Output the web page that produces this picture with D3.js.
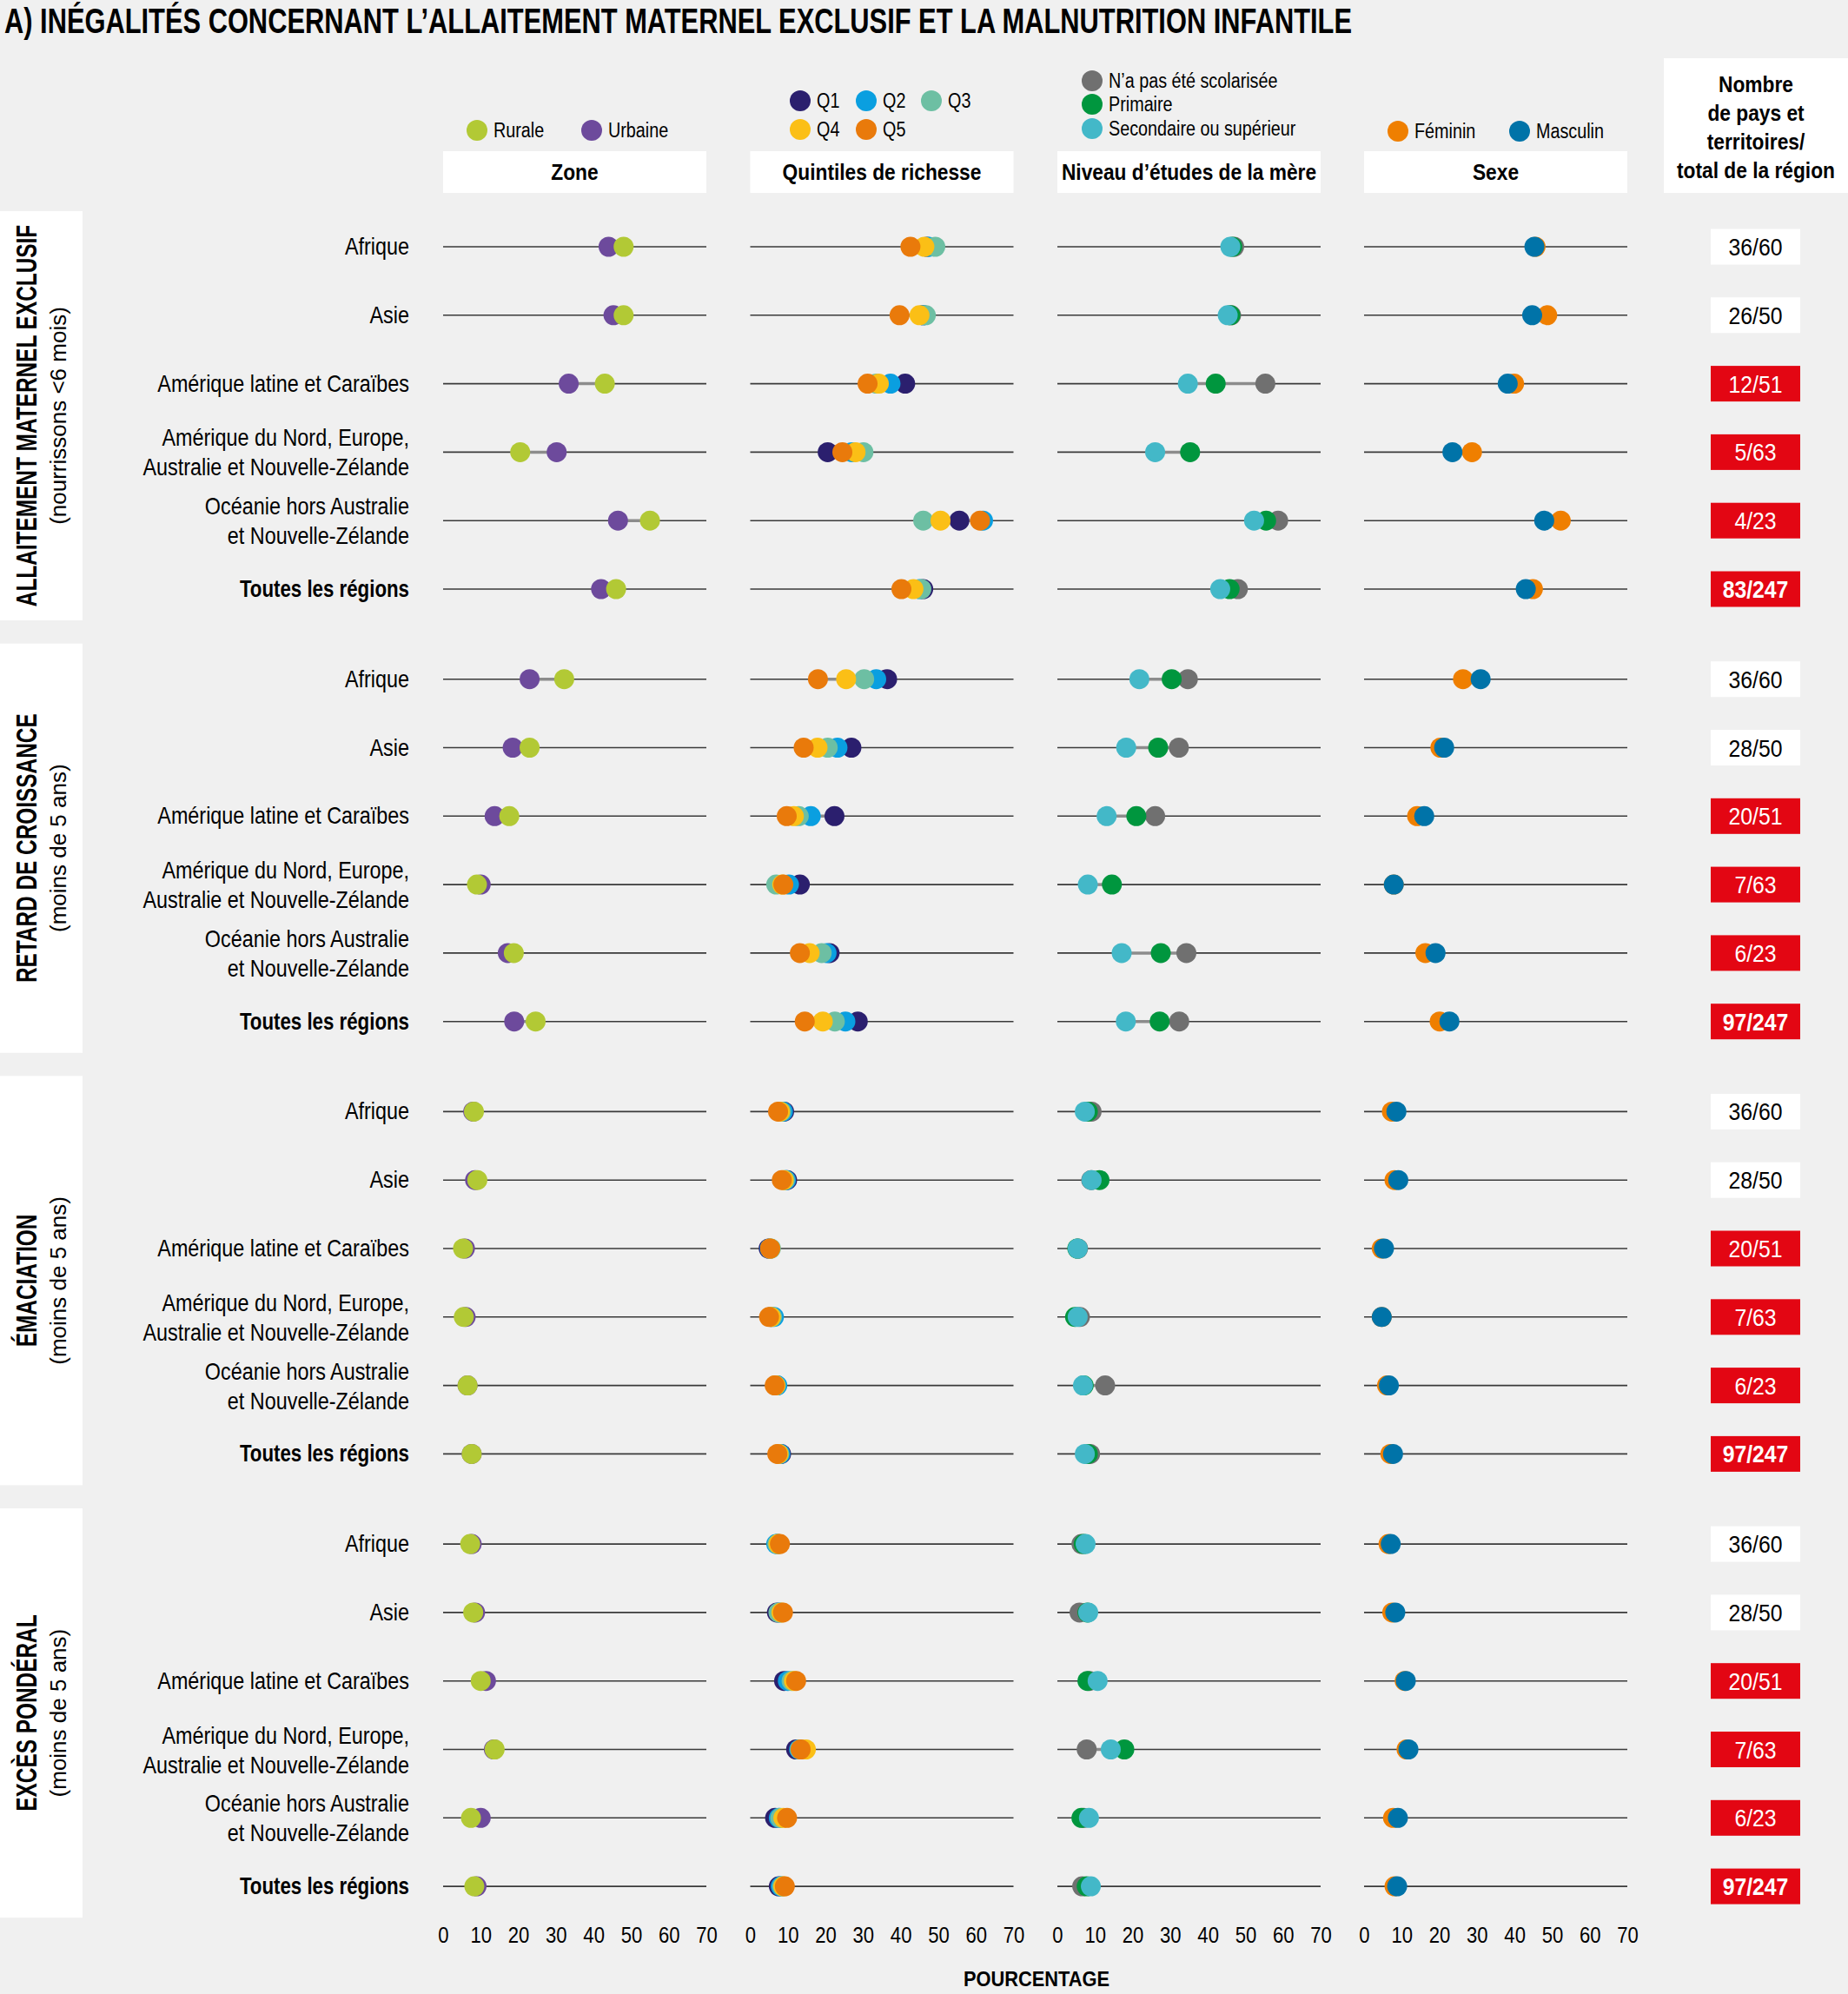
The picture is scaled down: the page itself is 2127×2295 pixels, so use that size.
<!DOCTYPE html>
<html><head><meta charset="utf-8">
<script src="https://cdn.jsdelivr.net/npm/d3@7"></script>
<style>html,body{margin:0;padding:0;background:#f0f0f0}svg{display:block}</style>
</head><body><svg id="c" width="2127" height="2295"></svg>
<script>
// ---------------- DATA ----------------
const titleText = "A) INÉGALITÉS CONCERNANT L’ALLAITEMENT MATERNEL EXCLUSIF ET LA MALNUTRITION INFANTILE";
const regions = ["Afrique", "Asie", "Amérique latine et Caraïbes",
  "Amérique du Nord, Europe,\nAustralie et Nouvelle-Zélande",
  "Océanie hors Australie\net Nouvelle-Zélande", "Toutes les régions"];
const indicatorTitles = ["ALLAITEMENT MATERNEL EXCLUSIF", "RETARD DE CROISSANCE", "ÉMACIATION", "EXCÈS PONDÉRAL"];
const indicatorSubtitles = ["(nourrissons <6 mois)", "(moins de 5 ans)", "(moins de 5 ans)", "(moins de 5 ans)"];
const dimensionNames = ["Zone", "Quintiles de richesse", "Niveau d’études de la mère", "Sexe"];
const countHeader = ["Nombre", "de pays et", "territoires/", "total de la région"];
const axisTitle = "POURCENTAGE";
const tickValues = [0, 10, 20, 30, 40, 50, 60, 70];
const countLabels = [
  ["36/60", "26/50", "12/51", "5/63", "4/23", "83/247"],
  ["36/60", "28/50", "20/51", "7/63", "6/23", "97/247"],
  ["36/60", "28/50", "20/51", "7/63", "6/23", "97/247"],
  ["36/60", "28/50", "20/51", "7/63", "6/23", "97/247"]];

// Zone
const zoneGroups = ["Rurale", "Urbaine"];
const zoneRurale  = [[48, 48, 43, 20.5, 55, 46], [32.2, 23, 17.6, 9, 18.8, 24.6], [8.2, 9.1, 5.3, 5.5, 6.5, 7.6], [7.2, 8, 10, 13.7, 7.4, 8.3]];
const zoneUrbaine = [[44, 45.3, 33.4, 30.2, 46.5, 42], [23, 18.5, 13.7, 10, 17.2, 18.9], [8, 8.5, 5.8, 6, 6.5, 7.6], [7.6, 8.5, 11.4, 13.5, 10, 8.9]];
// Quintiles de richesse
const quintGroups = ["Q1", "Q2", "Q3", "Q4", "Q5"];
const quintQ1 = [[47, 46, 41.2, 20.6, 55.6, 46], [36.4, 26.9, 22.4, 13.2, 21.1, 28.6], [9, 9.8, 4.9, 5.5, 7, 8.2], [7.3, 7.1, 9, 12.2, 6.6, 7.6]];
const quintQ2 = [[47.5, 46, 37.3, 27, 61.9, 45], [33.5, 23.2, 16.1, 10.3, 20.3, 25.3], [8.7, 9.5, 5.2, 6.3, 7.2, 8], [6.9, 7.8, 10, 13, 7.6, 8.1]];
const quintQ3 = [[49.2, 46.7, 33.5, 30.1, 46, 45.5], [30.3, 20.6, 12.9, 6.9, 19, 22.5], [8.2, 9.2, 5.5, 5.8, 6.8, 7.7], [7.2, 7.5, 11, 13.2, 8, 8.5]];
const quintQ4 = [[46.3, 45, 34.2, 28, 50.6, 43.4], [25.5, 17.9, 11.6, 8.5, 15.8, 19.3], [7.9, 8.9, 5.3, 5.5, 6.7, 7.5], [7.5, 8.3, 11.6, 14.8, 8.8, 8.8]];
const quintQ5 = [[42.6, 39.7, 31.2, 24.5, 61.1, 40.2], [18, 14.2, 9.7, 8.8, 13.2, 14.5], [7.4, 8.4, 5.3, 5, 6.5, 7.2], [7.9, 8.7, 12.2, 13.4, 9.8, 9.2]];
// Niveau d'études de la mère
const eduGroups = ["N’a pas été scolarisée", "Primaire", "Secondaire ou supérieur"];
const eduNone = [[47, 46.2, 55.3, null, 58.7, 48], [34.7, 32.3, 26, null, 34.3, 32.4], [9.1, 9, 5.5, 6, 12.7, 8.7], [6.4, 5.9, 8.5, 7.8, 7, 6.6]];
const eduPrim = [[46.5, 46, 42.1, 35.3, 55.5, 45.8], [30.4, 26.8, 21, 14.5, 27.5, 27.2], [8.1, 11.2, 5.3, 4.7, 7, 8.1], [7, 8, 8, 17.8, 6.4, 7.8]];
const eduSec  = [[46, 45.3, 34.7, 26, 52.3, 43.3], [21.8, 18.3, 13.1, 8.1, 17.1, 18.2], [7.3, 9.1, 5.4, 5.4, 6.8, 7.3], [7.5, 8.2, 10.7, 14.2, 8.4, 8.9]];
// Sexe
const sexGroups = ["Féminin", "Masculin"];
const sexFem  = [[45.6, 48.7, 39.9, 28.7, 52.3, 44.9], [26.3, 20.3, 14.1, 7.9, 16.3, 20.1], [7.4, 8.1, 4.7, 4.7, 6.1, 7], [6.5, 7.5, 10.8, 11.3, 7.7, 8.1]];
const sexMasc = [[45.3, 44.7, 38.2, 23.5, 47.9, 43], [31, 21.3, 16, 7.9, 19, 22.7], [8.6, 9.1, 5.3, 4.7, 6.6, 7.7], [7.1, 8.3, 11.1, 11.8, 9, 8.8]];

// ---------------- STYLE / LAYOUT ----------------
const dims = [
  {groups: zoneGroups, values: [zoneRurale, zoneUrbaine], colors: ["#b2c935", "#6d4a9c"], order: [1, 0],
   legend: [[549, 150], [681, 150]]},
  {groups: quintGroups, values: [quintQ1, quintQ2, quintQ3, quintQ4, quintQ5],
   colors: ["#2b1f6e", "#0a9fe0", "#6dbfa3", "#fbbf16", "#e97a0b"], order: [0, 1, 2, 3, 4],
   legend: [[921, 116], [997, 116], [1072, 116], [921, 149], [997, 149]]},
  {groups: eduGroups, values: [eduNone, eduPrim, eduSec], colors: ["#707070", "#00963e", "#43b8c8"], order: [0, 1, 2],
   legend: [[1257, 93], [1257, 120], [1257, 148]]},
  {groups: sexGroups, values: [sexFem, sexMasc], colors: ["#ef7f00", "#0073a8"], order: [0, 1],
   legend: [[1609, 151], [1749, 151]]}
];
const FONT = '"Liberation Sans", Arial, sans-serif';
const panelX = [510, 863.5, 1217, 1570];
const PW = 303;
const R = 11.5;
const rowY = (s, r) => 284 + s * 497.7 + r * 78.8;
const x = d3.scaleLinear().domain([0, 70]).range([0, PW]);

const svg = d3.select("#c");
svg.append("rect").attr("width", 2127).attr("height", 2295).attr("fill", "#f0f0f0");

function txt(g, px, py, s, o = {}) {
  return g.append("text")
    .attr("transform", `translate(${px},${py})${o.rot ? ` rotate(${o.rot})` : ""} scale(${o.sx ?? 1},1)`)
    .attr("text-anchor", o.anchor || "start")
    .attr("font-family", FONT)
    .attr("font-size", o.size || 27)
    .attr("font-weight", o.weight || "normal")
    .attr("fill", o.fill || "#000")
    .text(s);
}

// Title
txt(svg, 5, 38, titleText, {size: 40, weight: "bold"})
  .attr("textLength", 1551).attr("lengthAdjust", "spacingAndGlyphs");

// Legends + header boxes
dims.forEach((d, di) => {
  d.groups.forEach((gname, gi) => {
    const [cx, cy] = d.legend[gi];
    svg.append("circle").attr("cx", cx).attr("cy", cy).attr("r", 12).attr("fill", d.colors[gi]);
    txt(svg, cx + 19, cy + 8, gname, {size: 23, sx: 0.86});
  });
  svg.append("rect").attr("x", panelX[di]).attr("y", 174).attr("width", PW).attr("height", 48).attr("fill", "#fff");
  txt(svg, panelX[di] + PW / 2, 207, dimensionNames[di], {size: 25, weight: "bold", sx: 0.91, anchor: "middle"});
});
svg.append("rect").attr("x", 1915).attr("y", 67).attr("width", 212).attr("height", 155).attr("fill", "#fff");
countHeader.forEach((l, i) => txt(svg, 2021, 106 + i * 33, l, {size: 25, weight: "bold", sx: 0.91, anchor: "middle"}));

// Sections
indicatorTitles.forEach((title, s) => {
  const top = rowY(s, 0) - 41, bot = rowY(s, 5) + 36, mid = (top + bot) / 2;
  svg.append("rect").attr("x", 0).attr("y", top).attr("width", 95).attr("height", bot - top).attr("fill", "#fff");
  txt(svg, 42, mid, title, {rot: -90, anchor: "middle", size: 32.8, weight: "bold", sx: 0.744});
  txt(svg, 76, mid, indicatorSubtitles[s], {rot: -90, anchor: "middle", size: 26});

  regions.forEach((reg, r) => {
    const y = rowY(s, r);
    const bold = r === regions.length - 1;
    const lines = reg.split("\n");
    if (lines.length === 1) txt(svg, 471, y + 9, lines[0], {size: 27.5, sx: bold ? 0.81 : 0.85, anchor: "end", weight: bold ? "bold" : "normal"});
    else lines.forEach((l, li) => txt(svg, 471, y - 7 + li * 34, l, {size: 27.5, sx: 0.85, anchor: "end"}));

    dims.forEach((d, di) => {
      const g = svg.append("g").attr("transform", `translate(${panelX[di]},${y})`);
      g.append("line").attr("x1", x(0)).attr("x2", x(70)).attr("stroke", "#3a3a3a").attr("stroke-width", 1.6);
      const vals = d.values.map(v => v[s][r]).filter(v => v != null);
      const [mn, mx] = d3.extent(vals);
      if (mx > mn) g.append("line").attr("x1", x(mn)).attr("x2", x(mx)).attr("stroke", "#8c8c8c").attr("stroke-width", 3.5);
      d.order.forEach(gi => {
        const v = d.values[gi][s][r];
        if (v == null) return;
        g.append("circle").attr("cx", x(v)).attr("r", R).attr("fill", d.colors[gi]);
      });
    });

    const lab = countLabels[s][r];
    const [num, den] = lab.split("/").map(Number);
    const red = num / den < 0.5;
    svg.append("rect").attr("x", 1969).attr("y", y - 20.5).attr("width", 103).attr("height", 41).attr("fill", red ? "#e30613" : "#fff");
    txt(svg, 2020.5, y + 10, lab, {size: 28, sx: 0.885, anchor: "middle", fill: red ? "#fff" : "#000", weight: bold ? "bold" : "normal"});
  });
});

// Axes
panelX.forEach(px => {
  const ax = svg.append("g").attr("transform", `translate(${px},2212)`)
    .call(d3.axisBottom(x).tickValues(tickValues).tickSize(0).tickPadding(0).tickFormat(d3.format("d")));
  ax.select(".domain").remove();
  ax.selectAll("text").attr("font-family", FONT).attr("font-size", 26).attr("fill", "#000")
    .attr("dy", 0).attr("y", 24).attr("transform", "scale(0.85,1)");
});
txt(svg, 1193, 2286, axisTitle, {size: 24, weight: "bold", sx: 0.91, anchor: "middle"});
</script></body></html>
